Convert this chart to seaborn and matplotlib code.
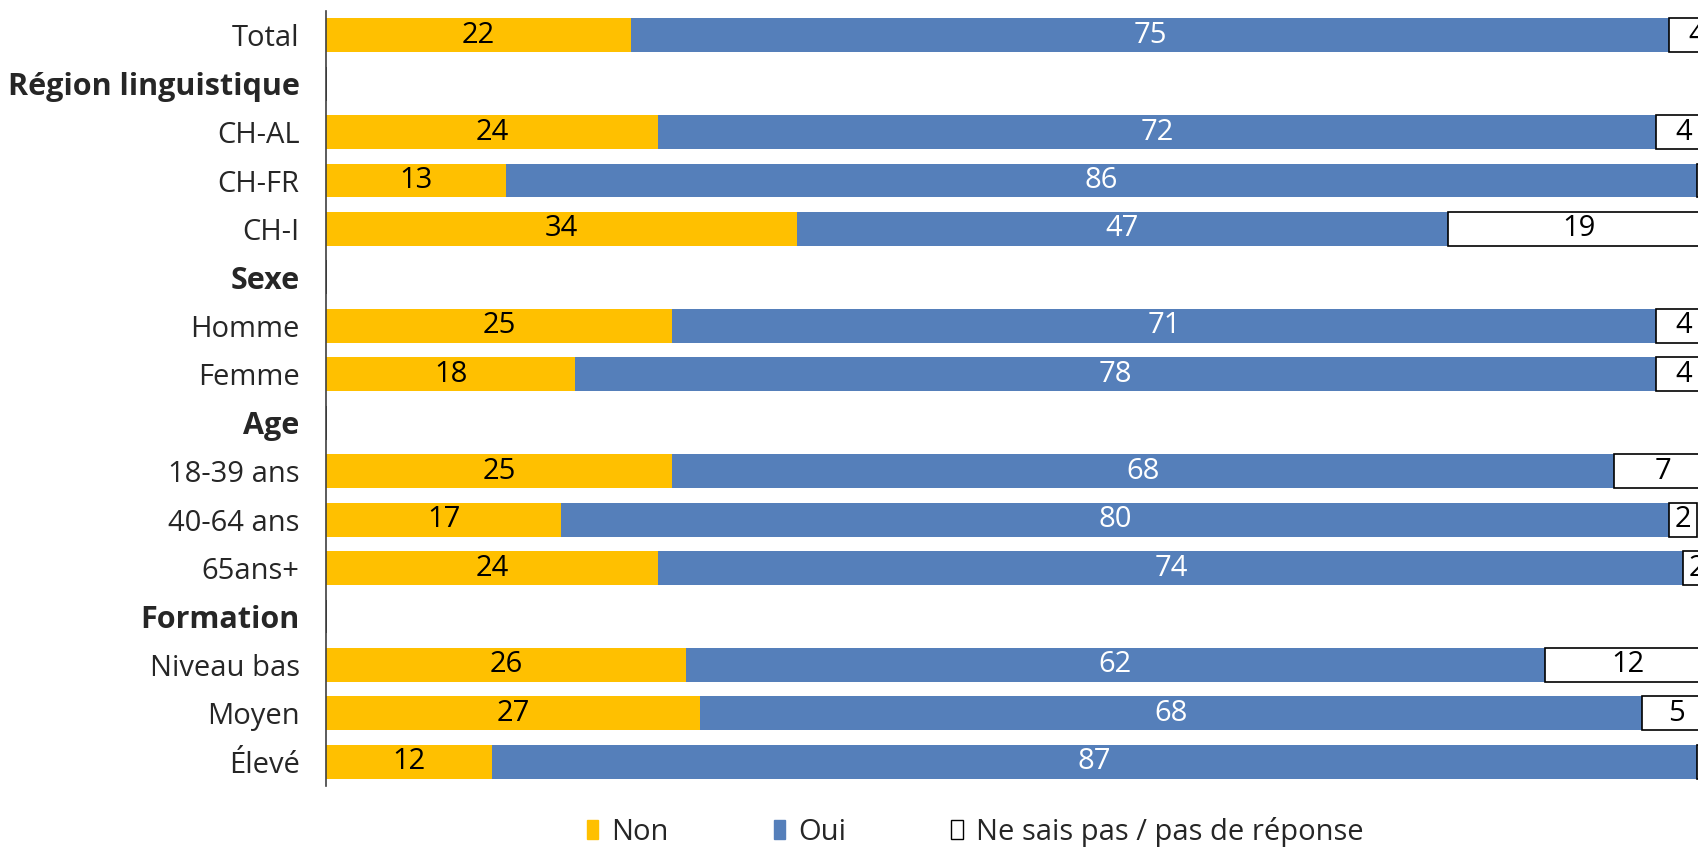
import numpy as np
import pandas as pd
import matplotlib
matplotlib.use("Agg")
import matplotlib.pyplot as plt
from matplotlib.patches import Patch
import seaborn as sns

# Rows of the chart, top to bottom (header rows have no bars)
categories = ["Total", "Région linguistique", "CH-AL", "CH-FR", "CH-I",
              "Sexe", "Homme", "Femme", "Age", "18-39 ans", "40-64 ans",
              "65ans+", "Formation", "Niveau bas", "Moyen", "Élevé"]
headers = ["Région linguistique", "Sexe", "Age", "Formation"]

non = [22, 0, 24, 13, 34, 0, 25, 18, 0, 25, 17, 24, 0, 26, 27, 12]
oui = [75, 0, 72, 86, 47, 0, 71, 78, 0, 68, 80, 74, 0, 62, 68, 87]
nsp = [4, 0, 4, 1, 19, 0, 4, 4, 0, 7, 2, 2, 0, 12, 5, 1]

series = ["Non", "Oui", "Ne sais pas / pas de réponse"]
colors = ["#FFC000", "#557FBA", "#FFFFFF"]
text_colors = ["black", "white", "black"]

sns.set_style("white")
plt.rcParams["font.family"] = ["Open Sans", "DejaVu Sans"]

df = pd.DataFrame({"cat": categories, "Non": non, "Oui": oui,
                   "Ne sais pas / pas de réponse": nsp})

fig = plt.figure(figsize=(16.99, 8.47), dpi=100)
ax = fig.add_axes([326 / 1699, 61 / 847, 1385 / 1699, 775 / 847])

left = np.zeros(len(categories))
for name, col, tcol in zip(series, colors, text_colors):
    sns.barplot(data=df, x=name, y="cat", order=categories, color=col,
                orient="h", width=0.7, ax=ax, saturation=1,
                edgecolor="black" if col == "#FFFFFF" else col,
                linewidth=1.2 if col == "#FFFFFF" else 0)
    cont = ax.containers[-1]
    # stack the segment after the previous ones
    for patch, l in zip(cont.patches, left):
        patch.set_x(l)
    vals = df[name].to_numpy()
    for i, (v, l) in enumerate(zip(vals, left)):
        if v > 0:
            ax.text(l + v / 2, i, f"{v}", ha="center", va="center",
                    fontsize=21, color=tcol)
    left = left + vals

ax.set_xlim(0, 100)
ax.set_ylim(len(categories) - 0.5, -0.5)
ax.set_xlabel("")
ax.set_ylabel("")
ax.set_xticks([])

for s in ["top", "right", "bottom"]:
    ax.spines[s].set_visible(False)
ax.spines["left"].set_color("#404040")
ax.spines["left"].set_linewidth(1.2)

ax.set_yticks(range(len(categories)))
ax.set_yticklabels(categories, fontsize=21)
for lab in ax.get_yticklabels():
    if lab.get_text() in headers:
        lab.set_fontweight("bold")
        lab.set_fontsize(22)
ax.tick_params(axis="y", which="major", length=0, pad=19)
ax.set_yticks(np.arange(-0.5, len(categories)), minor=True)
ax.tick_params(axis="y", which="minor", length=9, width=1.2, color="#404040")

handles = [Patch(facecolor=c, edgecolor="black" if c == "#FFFFFF" else c,
                 linewidth=1) for c in colors]
fig.legend(handles, series, loc="center", bbox_to_anchor=(0.574, 0.018),
           ncol=3, frameon=False, fontsize=21, handlelength=0.4,
           handleheight=0.65, handletextpad=0.45, columnspacing=3.6)

fig.savefig("out.png", dpi=100)
